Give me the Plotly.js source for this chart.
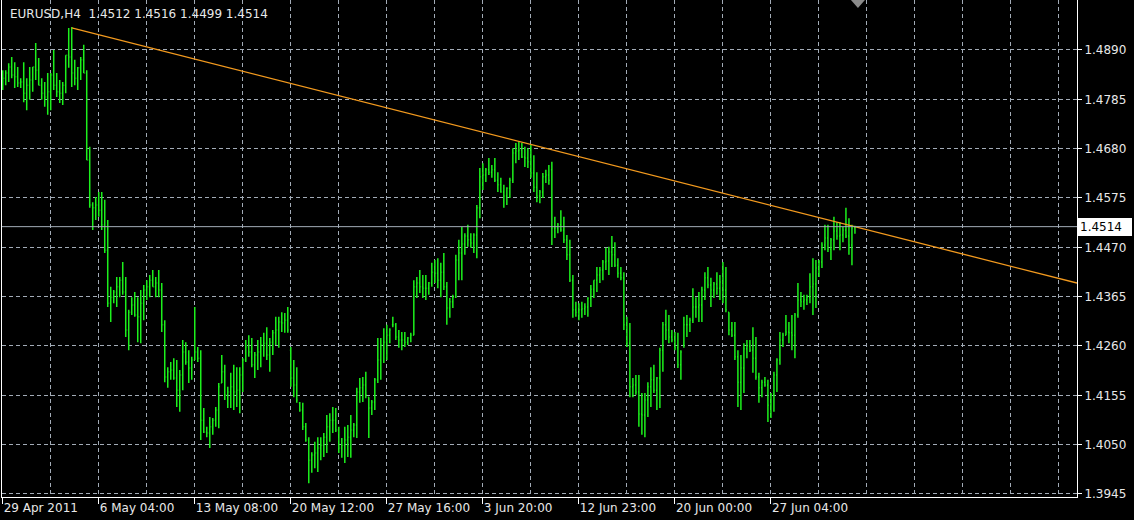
<!DOCTYPE html>
<html><head><meta charset="utf-8">
<script src="https://cdn.plot.ly/plotly-3.0.1.min.js"></script>
<style>html,body{margin:0;padding:0;background:#000;overflow:hidden}#chart{width:1134px;height:520px}</style>
</head><body><div id="chart"></div>
<script>
const symbolName = 'EURUSD,H4';

const openP = [
1.4826,1.4830,1.4841,1.4854,1.4837,1.4833,1.4820,1.4822,1.4798,1.4815,
1.4826,1.4854,1.4847,1.4815,1.4798,1.4790,1.4801,1.4837,1.4815,1.4801,
1.4798,1.4815,1.4879,1.4875,1.4841,1.4830,1.4852,1.4869,1.4841,1.4656,
1.4560,1.4554,1.4560,1.4549,1.4518,1.4464,1.4351,1.4364,1.4375,1.4386,
1.4400,1.4375,1.4294,1.4332,1.4347,1.4326,1.4322,1.4351,1.4379,1.4386,
1.4400,1.4386,1.4394,1.4379,1.4305,1.4194,1.4205,1.4209,1.4192,1.4166,
1.4198,1.4247,1.4226,1.4213,1.4230,1.4247,1.4234,1.4102,1.4077,1.4075,
1.4088,1.4102,1.4124,1.4181,1.4205,1.4156,1.4162,1.4173,1.4162,1.4166,
1.4198,1.4230,1.4258,1.4247,1.4220,1.4241,1.4247,1.4262,1.4266,1.4241,
1.4268,1.4288,1.4294,1.4311,1.4309,1.4315,1.4251,1.4192,1.4177,1.4139,
1.4124,1.4088,1.4060,1.4017,1.4028,1.4032,1.4043,1.4049,1.4066,1.4088,
1.4102,1.4102,1.4081,1.4043,1.4049,1.4060,1.4066,1.4081,1.4092,1.4162,
1.4171,1.4177,1.4151,1.4128,1.4141,1.4188,1.4230,1.4262,1.4268,1.4283,
1.4305,1.4305,1.4279,1.4273,1.4273,1.4268,1.4277,1.4283,1.4386,1.4394,
1.4386,1.4383,1.4383,1.4394,1.4417,1.4415,1.4400,1.4417,1.4386,1.4341,
1.4354,1.4364,1.4443,1.4458,1.4477,1.4494,1.4486,1.4479,1.4496,1.4554,
1.4620,1.4624,1.4635,1.4630,1.4635,1.4613,1.4603,1.4588,1.4579,1.4596,
1.4613,1.4671,1.4675,1.4677,1.4662,1.4660,1.4652,1.4628,1.4598,1.4579,
1.4588,1.4620,1.4624,1.4635,1.4511,1.4511,1.4518,1.4507,1.4486,1.4454,
1.4400,1.4337,1.4332,1.4337,1.4339,1.4343,1.4362,1.4381,1.4400,1.4411,
1.4422,1.4439,1.4441,1.4460,1.4454,1.4432,1.4415,1.4405,1.4305,1.4266,
1.4173,1.4177,1.4162,1.4115,1.4113,1.4145,1.4173,1.4188,1.4166,1.4192,
1.4251,1.4305,1.4294,1.4279,1.4273,1.4256,1.4220,1.4262,1.4305,1.4305,
1.4315,1.4343,1.4343,1.4347,1.4379,1.4405,1.4390,1.4379,1.4392,1.4383,
1.4396,1.4379,1.4332,1.4294,1.4283,1.4237,1.4183,1.4213,1.4254,1.4260,
1.4251,1.4234,1.4194,1.4171,1.4183,1.4177,1.4134,1.4156,1.4198,1.4230,
1.4273,1.4283,1.4290,1.4288,1.4283,1.4326,1.4358,1.4354,1.4358,1.4364,
1.4386,1.4392,1.4426,1.4439,1.4475,1.4490,1.4466,1.4486,1.4505,1.4494,
1.4496,1.4507,1.4494,1.4475,1.4512];

const highP = [
1.4847,1.4847,1.4862,1.4875,1.4864,1.4854,1.4830,1.4864,1.4830,1.4854,
1.4854,1.4905,1.4873,1.4830,1.4822,1.4841,1.4841,1.4890,1.4841,1.4826,
1.4822,1.4879,1.4937,1.4939,1.4869,1.4854,1.4875,1.4901,1.4847,1.4684,
1.4566,1.4577,1.4588,1.4588,1.4571,1.4528,1.4386,1.4379,1.4407,1.4407,
1.4439,1.4407,1.4337,1.4364,1.4375,1.4364,1.4379,1.4390,1.4400,1.4411,
1.4422,1.4407,1.4422,1.4394,1.4315,1.4215,1.4226,1.4234,1.4230,1.4209,
1.4273,1.4268,1.4251,1.4237,1.4343,1.4258,1.4251,1.4128,1.4088,1.4109,
1.4107,1.4130,1.4181,1.4241,1.4220,1.4173,1.4203,1.4220,1.4215,1.4215,
1.4234,1.4273,1.4283,1.4277,1.4247,1.4273,1.4279,1.4288,1.4300,1.4277,
1.4294,1.4322,1.4322,1.4332,1.4330,1.4343,1.4258,1.4230,1.4215,1.4141,
1.4139,1.4096,1.4066,1.4034,1.4056,1.4066,1.4066,1.4075,1.4113,1.4117,
1.4130,1.4128,1.4088,1.4064,1.4088,1.4092,1.4113,1.4096,1.4171,1.4192,
1.4194,1.4205,1.4151,1.4145,1.4192,1.4277,1.4277,1.4298,1.4305,1.4298,
1.4322,1.4309,1.4294,1.4290,1.4290,1.4279,1.4288,1.4400,1.4407,1.4422,
1.4411,1.4411,1.4396,1.4437,1.4443,1.4447,1.4437,1.4458,1.4396,1.4362,
1.4369,1.4454,1.4486,1.4513,1.4500,1.4518,1.4500,1.4500,1.4560,1.4639,
1.4649,1.4639,1.4660,1.4645,1.4660,1.4630,1.4618,1.4603,1.4598,1.4618,
1.4681,1.4692,1.4694,1.4692,1.4684,1.4681,1.4688,1.4666,1.4630,1.4592,
1.4628,1.4635,1.4645,1.4652,1.4535,1.4522,1.4549,1.4535,1.4496,1.4486,
1.4411,1.4354,1.4351,1.4354,1.4351,1.4364,1.4390,1.4400,1.4428,1.4428,
1.4443,1.4469,1.4471,1.4494,1.4481,1.4447,1.4428,1.4417,1.4322,1.4309,
1.4192,1.4198,1.4198,1.4160,1.4160,1.4183,1.4215,1.4220,1.4194,1.4256,
1.4311,1.4337,1.4326,1.4294,1.4290,1.4288,1.4251,1.4322,1.4326,1.4320,
1.4383,1.4364,1.4375,1.4386,1.4417,1.4428,1.4405,1.4396,1.4417,1.4411,
1.4439,1.4428,1.4332,1.4311,1.4311,1.4251,1.4241,1.4266,1.4273,1.4273,
1.4300,1.4279,1.4203,1.4188,1.4194,1.4188,1.4160,1.4205,1.4234,1.4290,
1.4288,1.4326,1.4311,1.4326,1.4330,1.4394,1.4375,1.4369,1.4369,1.4415,
1.4447,1.4443,1.4443,1.4481,1.4518,1.4518,1.4490,1.4535,1.4524,1.4524,
1.4513,1.4554,1.4532,1.4518,1.4516];

const lowP = [
1.4805,1.4815,1.4822,1.4830,1.4809,1.4811,1.4809,1.4779,1.4762,1.4784,
1.4801,1.4826,1.4815,1.4784,1.4769,1.4752,1.4762,1.4805,1.4790,1.4777,
1.4773,1.4798,1.4852,1.4811,1.4815,1.4805,1.4826,1.4841,1.4656,1.4554,
1.4507,1.4528,1.4535,1.4507,1.4458,1.4343,1.4311,1.4351,1.4343,1.4364,
1.4369,1.4279,1.4251,1.4326,1.4322,1.4268,1.4266,1.4315,1.4358,1.4364,
1.4386,1.4364,1.4364,1.4290,1.4183,1.4171,1.4188,1.4188,1.4130,1.4120,
1.4166,1.4220,1.4181,1.4188,1.4230,1.4226,1.4060,1.4075,1.4066,1.4043,
1.4071,1.4088,1.4085,1.4181,1.4145,1.4128,1.4128,1.4124,1.4130,1.4117,
1.4162,1.4226,1.4237,1.4215,1.4192,1.4209,1.4215,1.4237,1.4230,1.4205,
1.4241,1.4262,1.4256,1.4290,1.4288,1.4288,1.4173,1.4151,1.4139,1.4120,
1.4081,1.4056,1.3968,1.3990,1.4000,1.3992,1.4017,1.4024,1.4032,1.4056,
1.4075,1.4077,1.4032,1.4022,1.4011,1.4024,1.4022,1.4066,1.4064,1.4139,
1.4141,1.4149,1.4064,1.4113,1.4124,1.4181,1.4188,1.4224,1.4230,1.4266,
1.4300,1.4273,1.4256,1.4251,1.4258,1.4262,1.4268,1.4283,1.4362,1.4373,
1.4362,1.4358,1.4369,1.4386,1.4394,1.4383,1.4364,1.4379,1.4305,1.4320,
1.4341,1.4362,1.4400,1.4400,1.4454,1.4471,1.4469,1.4458,1.4447,1.4532,
1.4592,1.4609,1.4624,1.4618,1.4609,1.4588,1.4586,1.4554,1.4560,1.4575,
1.4607,1.4649,1.4656,1.4660,1.4641,1.4639,1.4618,1.4588,1.4566,1.4564,
1.4575,1.4607,1.4603,1.4475,1.4490,1.4500,1.4503,1.4479,1.4443,1.4396,
1.4320,1.4322,1.4315,1.4320,1.4326,1.4322,1.4343,1.4362,1.4375,1.4394,
1.4400,1.4422,1.4411,1.4428,1.4428,1.4405,1.4400,1.4294,1.4258,1.4151,
1.4151,1.4156,1.4088,1.4071,1.4066,1.4109,1.4130,1.4160,1.4124,1.4128,
1.4205,1.4273,1.4266,1.4268,1.4251,1.4213,1.4188,1.4256,1.4279,1.4290,
1.4309,1.4320,1.4311,1.4311,1.4358,1.4383,1.4343,1.4362,1.4369,1.4358,
1.4351,1.4332,1.4283,1.4279,1.4230,1.4130,1.4124,1.4160,1.4234,1.4247,
1.4203,1.4188,1.4139,1.4151,1.4173,1.4098,1.4107,1.4120,1.4162,1.4220,
1.4258,1.4283,1.4266,1.4251,1.4234,1.4320,1.4343,1.4337,1.4347,1.4351,
1.4326,1.4341,1.4407,1.4426,1.4464,1.4460,1.4443,1.4464,1.4486,1.4464,
1.4481,1.4490,1.4454,1.4432,1.4499];

const closeP = [
1.4830,1.4841,1.4854,1.4837,1.4833,1.4820,1.4822,1.4798,1.4815,1.4826,
1.4854,1.4847,1.4815,1.4798,1.4790,1.4801,1.4837,1.4815,1.4801,1.4798,
1.4815,1.4879,1.4875,1.4841,1.4830,1.4852,1.4869,1.4841,1.4656,1.4560,
1.4554,1.4560,1.4549,1.4518,1.4464,1.4351,1.4364,1.4375,1.4386,1.4400,
1.4375,1.4294,1.4332,1.4347,1.4326,1.4322,1.4351,1.4379,1.4386,1.4400,
1.4386,1.4394,1.4379,1.4305,1.4194,1.4205,1.4209,1.4192,1.4166,1.4198,
1.4247,1.4226,1.4213,1.4230,1.4247,1.4234,1.4102,1.4077,1.4075,1.4088,
1.4102,1.4124,1.4173,1.4205,1.4156,1.4162,1.4173,1.4162,1.4166,1.4198,
1.4230,1.4258,1.4247,1.4220,1.4241,1.4247,1.4262,1.4266,1.4241,1.4268,
1.4288,1.4294,1.4311,1.4309,1.4315,1.4294,1.4192,1.4177,1.4145,1.4124,
1.4088,1.4060,1.4017,1.4028,1.4032,1.4043,1.4049,1.4066,1.4088,1.4102,
1.4102,1.4081,1.4043,1.4049,1.4060,1.4066,1.4081,1.4092,1.4162,1.4171,
1.4177,1.4156,1.4128,1.4141,1.4188,1.4230,1.4262,1.4268,1.4283,1.4294,
1.4305,1.4279,1.4273,1.4273,1.4268,1.4277,1.4283,1.4386,1.4394,1.4386,
1.4383,1.4383,1.4394,1.4417,1.4415,1.4400,1.4417,1.4386,1.4341,1.4354,
1.4364,1.4443,1.4458,1.4477,1.4494,1.4486,1.4479,1.4496,1.4554,1.4620,
1.4624,1.4635,1.4630,1.4635,1.4613,1.4603,1.4588,1.4579,1.4596,1.4613,
1.4671,1.4675,1.4677,1.4662,1.4660,1.4652,1.4628,1.4598,1.4579,1.4588,
1.4620,1.4624,1.4613,1.4511,1.4511,1.4518,1.4507,1.4486,1.4454,1.4400,
1.4337,1.4332,1.4337,1.4339,1.4343,1.4362,1.4381,1.4400,1.4411,1.4422,
1.4439,1.4441,1.4460,1.4454,1.4432,1.4415,1.4405,1.4305,1.4266,1.4173,
1.4177,1.4162,1.4115,1.4113,1.4145,1.4173,1.4188,1.4166,1.4192,1.4251,
1.4305,1.4294,1.4279,1.4273,1.4256,1.4220,1.4247,1.4305,1.4305,1.4315,
1.4343,1.4343,1.4347,1.4379,1.4405,1.4390,1.4379,1.4392,1.4383,1.4396,
1.4379,1.4337,1.4294,1.4283,1.4237,1.4183,1.4213,1.4254,1.4260,1.4251,
1.4234,1.4194,1.4171,1.4183,1.4177,1.4134,1.4156,1.4198,1.4230,1.4273,
1.4283,1.4290,1.4288,1.4283,1.4326,1.4358,1.4354,1.4358,1.4364,1.4386,
1.4392,1.4426,1.4439,1.4475,1.4490,1.4466,1.4486,1.4505,1.4494,1.4496,
1.4507,1.4494,1.4475,1.4511,1.4514];

// x-axis labels (bar index where each date label sits)
const tickBars = [0, 32, 64, 96, 128, 160, 192, 224, 256];
const tickLabels = ['29 Apr 2011','6 May 04:00','13 May 08:00','20 May 12:00','27 May 16:00',
                    '3 Jun 20:00','12 Jun 23:00','20 Jun 00:00','27 Jun 04:00'];
// y-axis price labels
const priceTicks = [1.3945,1.4050,1.4155,1.4260,1.4365,1.4470,1.4575,1.4680,1.4785,1.4890];
// trend line anchor points (bar index, price)
const trendBars = [23, 358];
const trendPrices = [1.4937, 1.4394];

const barIdx = openP.map((_, i) => i);
const last = closeP.length - 1;
const lastClose = closeP[last];

const GREEN = '#1cf01c';
const GRID = '#a2abb6';
const FONT = 'DejaVu Sans, Verdana, sans-serif';

const traces = [
  {
    type: 'ohlc', x: barIdx, open: openP, high: highP, low: lowP, close: closeP,
    increasing: {line: {color: GREEN, width: 1.5}},
    decreasing: {line: {color: GREEN, width: 1.5}},
    tickwidth: 0.3, hoverinfo: 'skip', showlegend: false
  },
  {
    type: 'scatter', mode: 'lines', x: trendBars, y: trendPrices,
    line: {color: '#f39a1e', width: 1.3}, hoverinfo: 'skip', showlegend: false
  }
];

const fmt = v => v.toFixed(4);
const titleText = symbolName + '\u00a0\u00a0' + [openP[last], highP[last], lowP[last], closeP[last]].map(fmt).join(' ');

const layout = {
  width: 1134, height: 520,
  margin: {l: 2, r: 57, t: 0, b: 23, pad: 0},
  paper_bgcolor: '#000000', plot_bgcolor: '#000000',
  showlegend: false,
  font: {family: FONT, size: 12, color: '#e8e8e8'},
  xaxis: {
    range: [-0.233, 358],
    rangeslider: {visible: false},
    tickmode: 'array', tickvals: tickBars, ticktext: tickLabels,
    ticks: 'outside', ticklen: 6, tickcolor: '#ffffff', tickwidth: 1,
    ticklabelposition: 'outside right',
    tickfont: {family: FONT, size: 12, color: '#e8e8e8'},
    showgrid: true, gridcolor: GRID, gridwidth: 1, griddash: '4px,3px',
    minor: {tickmode: 'linear', tick0: 0, dtick: 16, showgrid: true, gridcolor: GRID, gridwidth: 1, griddash: '4px,3px', ticks: ''},
    showline: true, linecolor: '#ffffff', linewidth: 1, mirror: false,
    zeroline: false, fixedrange: true
  },
  yaxis: {
    side: 'right',
    range: [1.39386, 1.49964],
    tickmode: 'array', tickvals: priceTicks, tickformat: '.4f',
    ticks: 'outside', ticklen: 4, tickcolor: '#ffffff', tickwidth: 1,
    tickfont: {family: FONT, size: 12, color: '#e8e8e8'},
    showgrid: true, gridcolor: GRID, gridwidth: 1, griddash: '4px,3px',
    showline: true, linecolor: '#ffffff', linewidth: 1, mirror: true,
    zeroline: false, fixedrange: true
  },
  shapes: [
    {type: 'line', xref: 'paper', x0: 0, x1: 1, yref: 'y', y0: lastClose, y1: lastClose,
     line: {color: '#a3adb8', width: 1}},
    {type: 'path', xref: 'x', yref: 'paper', xsizemode: 'pixel', ysizemode: 'pixel',
     xanchor: closeP.length, yanchor: 1, path: 'M-7,0 L7,0 L0,-8 Z',
     fillcolor: '#8a8a8a', line: {width: 0}}
  ],
  annotations: [
    {xref: 'paper', yref: 'paper', x: 0, y: 1, xanchor: 'left', yanchor: 'top',
     xshift: 6, yshift: -5, showarrow: false, text: titleText,
     font: {family: FONT, size: 12, color: '#e8e8e8'}},
    {xref: 'paper', yref: 'y', x: 1, y: lastClose, xanchor: 'left', yanchor: 'middle',
     xshift: 1, showarrow: false, text: fmt(lastClose), bgcolor: '#ffffff',
     bordercolor: '#ffffff', borderpad: 1, width: 50, align: 'left',
     font: {family: FONT, size: 12, color: '#000000'}}
  ]
};

Plotly.newPlot('chart', traces, layout, {staticPlot: true, displayModeBar: false});
</script>
</body></html>
